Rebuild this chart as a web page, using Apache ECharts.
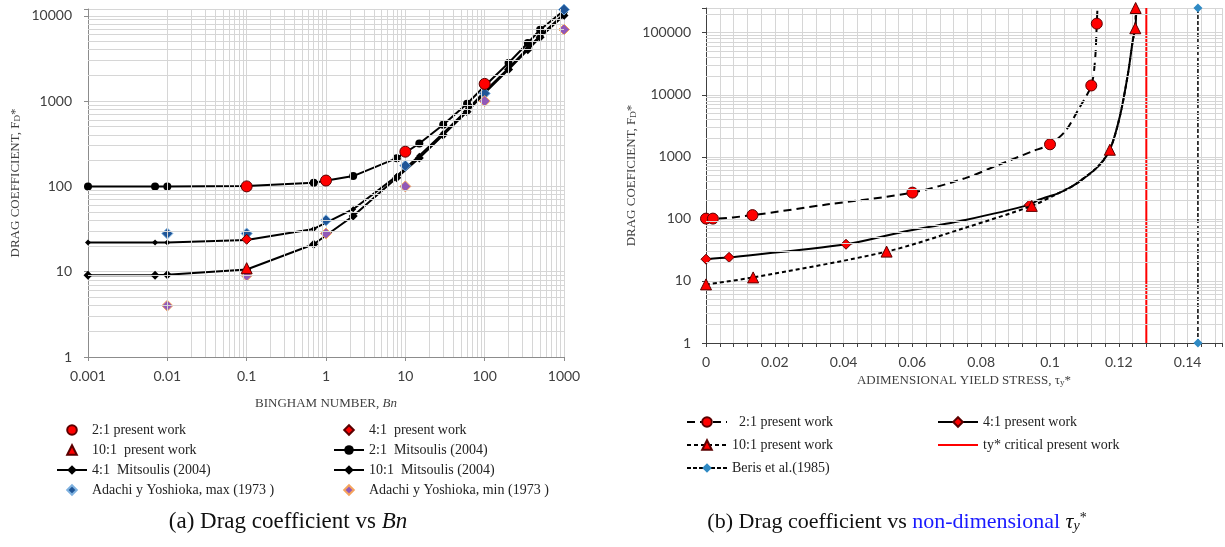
<!DOCTYPE html>
<html><head><meta charset="utf-8">
<script src="https://cdn.jsdelivr.net/npm/echarts@6/dist/echarts.min.js"></script>
<style>html,body{margin:0;padding:0;background:#fff}#c{width:1225px;height:547px}</style>
</head><body><div id="c"></div>
<script>
// ---------- Panel (a): drag coefficient vs Bingham number ----------
const bnMit    = [0.001, 0.007, 0.01, 0.1, 0.7, 2.2, 7.8, 15, 30, 60, 100, 200, 350, 500, 1000];
const fdMit21  = [100, 100, 100, 101, 110, 132, 214, 318, 527, 929, 1500, 2790, 4790, 6850, 11500];
const fdMit41  = [22, 22, 22, 23.5, 31.7, 54, 132, 228, 421, 789, 1300, 2435, 4170, 5820, 10500];
const fdMit101 = [9.1, 9.1, 9.2, 10.6, 21, 45, 126, 215, 400, 750, 1240, 2340, 4000, 5600, 10100];
const bnP21  = [0.1, 1, 10, 100];
const fdP21  = [100, 117, 255, 1590];
const bnP41  = [0.1];
const fdP41  = [24];
const bnP101 = [0.1];
const fdP101 = [11];
const bnAd     = [0.01, 0.1, 1, 10, 100, 1000];
const fdAdMax  = [28, 28, 40, 175, 1230, 11800];
const fdAdMin  = [4, 9, 28, 100, 1000, 6900];

// ---------- Panel (b): drag coefficient vs adimensional yield stress ----------
// points; mk = 1 where the curve carries a marker
const tau21  = [0, 0.002, 0.0135, 0.035, 0.06, 0.0754, 0.0851, 0.0947, 0.1, 0.1044, 0.1082, 0.112, 0.1131, 0.1136, 0.1138];
const fd21   = [101, 101, 115, 170, 265, 453, 745, 1217, 1590, 2570, 5730, 14100, 36600, 140000, 250000];
const mk21   = [1, 1, 1, 0, 1, 0, 0, 0, 1, 0, 0, 1, 0, 1, 0];
const tau41  = [0, 0.0067, 0.0407, 0.0562, 0.0754, 0.094, 0.0967, 0.1025, 0.1063, 0.1092, 0.114, 0.1174, 0.1203, 0.1227, 0.1241, 0.1248, 0.1251];
const fd41   = [22.4, 24, 39, 60, 96, 168, 203, 260, 332, 425, 700, 1300, 4460, 22400, 77000, 118000, 250000];
const mk41   = [1, 1, 1, 0, 0, 1, 0, 0, 0, 0, 0, 0, 0, 0, 0, 0, 0];
const tau101 = [0, 0.0137, 0.0525, 0.0754, 0.0947, 0.1025, 0.1063, 0.1092, 0.114, 0.1174, 0.1203, 0.1227, 0.1241, 0.1248, 0.1249];
const fd101  = [8.8, 11.4, 29.7, 72, 162, 260, 332, 425, 700, 1300, 4460, 22400, 77000, 118000, 250000];
const mk101  = [1, 1, 1, 0, 1, 0, 0, 0, 0, 1, 0, 0, 0, 1, 1];
const tauBeris = [0.143, 0.143];
const fdBeris  = [1, 250000];
const tauCrit  = [0.128, 0.128];
const fdCrit   = [1, 250000];

// ---------- helpers ----------
const pts = (xs, ys) => xs.map((x, i) => [x, ys[i]]);
const ptsM = (xs, ys, m) => xs.map((x, i) => m[i] ? [x, ys[i]] : {value: [x, ys[i]], symbol: 'none'});
function minorVals(lo, hi) { const o = []; for (let e = lo; e < hi; e++) for (let m = 2; m <= 9; m++) o.push(+(m * Math.pow(10, e)).toPrecision(6)); return o; }
const GRID = '#d6d6d6';
const isPow10 = v => Math.abs(Math.log10(v) - Math.round(Math.log10(v))) < 1e-6;
const serif = 'Liberation Serif';
const tickFont = {fontFamily: 'Lato', fontSize: 14, color: '#404040'};

function gridLines(xi, vals, dim) {
  return {type: 'line', xAxisIndex: xi, yAxisIndex: xi, data: [], z: 1, silent: true,
    markLine: {silent: true, symbol: ['none', 'none'], label: {show: false}, animation: false,
      lineStyle: {color: GRID, width: 1, type: 'solid'},
      data: vals.map(v => ({[dim]: v}))}};
}
// marker-only series (drawn as a line series with an invisible line)
function markers(name, xs, ys, symbol, size, itemStyle, z) {
  return {name, type: 'line', xAxisIndex: 0, yAxisIndex: 0, z: z || 5, data: pts(xs, ys),
    symbol, symbolSize: size, itemStyle, lineStyle: {width: 0, opacity: 0}};
}

const redStyle = {color: '#ff0000', borderColor: '#5a0000', borderWidth: 1};
const noLine = n => ({name: n, lineStyle: {opacity: 0, width: 0}});

const titleRich = {
  a: {fontFamily: serif, fontSize: 13, color: '#404040', verticalAlign: 'bottom'},
  i: {fontFamily: serif, fontSize: 13, color: '#404040', fontStyle: 'italic', verticalAlign: 'bottom'},
  s: {fontFamily: serif, fontSize: 9, color: '#404040', verticalAlign: 'bottom'}
};
const legText = {fontFamily: serif, fontSize: 14, color: '#222'};

const chart = echarts.init(document.getElementById('c'), null, {renderer: 'canvas'});
chart.setOption({
  animation: false,
  backgroundColor: '#fff',
  grid: [
    {left: 88, top: 9, width: 476, height: 348},
    {left: 706, top: 8, width: 516, height: 335}
  ],
  xAxis: [
    {type: 'log', gridIndex: 0, min: 0.001, max: 1000,
      axisLine: {show: true, onZero: false, lineStyle: {color: '#8c8c8c'}},
      axisTick: {show: true, length: 4, lineStyle: {color: '#8c8c8c'}},
      axisLabel: Object.assign({margin: 12, formatter: v => String(+v.toPrecision(6))}, tickFont),
      splitLine: {show: true, lineStyle: {color: GRID}},
      name: '{a|BINGHAM NUMBER, }{i|Bn}', nameLocation: 'middle', nameGap: 40,
      nameTextStyle: {rich: titleRich}},
    {type: 'value', gridIndex: 1, min: 0, max: 0.15, interval: 0.004,
      axisLine: {show: true, onZero: false, lineStyle: {color: '#404040'}},
      axisTick: {show: true, length: 4, lineStyle: {color: '#404040'}},
      axisLabel: Object.assign({margin: 12, interval: 0, hideOverlap: false, formatter: v => {
        const r = v / 0.02; return Math.abs(r - Math.round(r)) < 1e-6 ? (v === 0 ? '0' : String(+v.toFixed(2))) : '';
      }}, tickFont),
      splitLine: {show: true, lineStyle: {color: GRID}},
      name: '{a|ADIMENSIONAL YIELD STRESS, τ}{s|y}{a|*}', nameLocation: 'middle', nameGap: 30,
      nameTextStyle: {rich: titleRich}}
  ],
  yAxis: [
    {type: 'log', gridIndex: 0, min: 1, max: 12000,
      axisLine: {show: true, lineStyle: {color: '#8c8c8c'}},
      axisTick: {show: true, length: 4, lineStyle: {color: '#8c8c8c'}},
      axisLabel: Object.assign({margin: 16, formatter: v => isPow10(v) ? String(Math.round(v)) : ''}, tickFont),
      splitLine: {show: true, lineStyle: {color: GRID}},
      name: '{a|DRAG COEFFICIENT, F}{s|D}{a|*}', nameLocation: 'middle', nameRotate: 90, nameGap: 66,
      nameTextStyle: {rich: titleRich}},
    {type: 'log', gridIndex: 1, min: 1, max: 250000,
      axisLine: {show: true, lineStyle: {color: '#404040'}},
      axisTick: {show: true, length: 4, lineStyle: {color: '#404040'}},
      axisLabel: Object.assign({margin: 15, formatter: v => isPow10(v) ? String(Math.round(v)) : ''}, tickFont),
      splitLine: {show: true, lineStyle: {color: GRID}},
      name: '{a|DRAG COEFICIENT, F}{s|D}{a|*}', nameLocation: 'middle', nameRotate: 90, nameGap: 68,
      nameTextStyle: {rich: titleRich}}
  ],
  legend: [
    {left: 51, top: 418, orient: 'vertical', itemWidth: 30, itemHeight: 12, itemGap: 6, textStyle: legText,
      data: [noLine('2:1 present work'), noLine('10:1  present work'), '4:1  Mitsoulis (2004)', noLine('Adachi y Yoshioka, max (1973 )')]},
    {left: 328, top: 418, orient: 'vertical', itemWidth: 30, itemHeight: 12, itemGap: 6, textStyle: legText,
      data: [noLine('4:1  present work'), '2:1  Mitsoulis (2004)', '10:1  Mitsoulis (2004)', noLine('Adachi y Yoshioka, min (1973 )')]},
    {left: 681, top: 410, orient: 'vertical', itemWidth: 40, itemHeight: 12, itemGap: 9, textStyle: legText,
      data: ['  2:1 present work', '10:1 present work', 'Beris et al.(1985)']},
    {left: 932, top: 410, orient: 'vertical', itemWidth: 40, itemHeight: 12, itemGap: 9, textStyle: legText,
      data: ['4:1 present work', {name: 'ty* critical present work', itemStyle: {opacity: 0}}]}
  ],
  graphic: [
    {type: 'text', x: 288, y: 522, style: {
      text: '{n|(a) Drag coefficient vs }{i|Bn}', textAlign: 'center', textVerticalAlign: 'middle',
      rich: {n: {fontFamily: serif, fontSize: 23, fill: '#111'}, i: {fontFamily: serif, fontSize: 23, fontStyle: 'italic', fill: '#111'}}}},
    {type: 'text', x: 897, y: 522, style: {
      text: '{n|(b) Drag coefficient vs }{b|non-dimensional}{n| }{i|τ}{s|y}{p|*}', textAlign: 'center', textVerticalAlign: 'middle',
      rich: {n: {fontFamily: serif, fontSize: 22, fill: '#111'}, b: {fontFamily: serif, fontSize: 22, fill: '#1a1aff'},
        i: {fontFamily: serif, fontSize: 22, fontStyle: 'italic', fill: '#111'},
        s: {fontFamily: serif, fontSize: 14, fontStyle: 'italic', fill: '#111', verticalAlign: 'bottom'},
        p: {fontFamily: serif, fontSize: 14, fill: '#111', verticalAlign: 'top'}}}}
  ],
  series: [
    gridLines(0, minorVals(0, 4), 'yAxis'),
    gridLines(0, minorVals(-3, 3), 'xAxis'),
    gridLines(1, minorVals(0, 5).concat([200000]), 'yAxis'),
    // panel (a)
    {name: '2:1  Mitsoulis (2004)', type: 'line', xAxisIndex: 0, yAxisIndex: 0, z: 3,
      data: pts(bnMit, fdMit21), symbol: 'circle', symbolSize: 8,
      itemStyle: {color: '#000'}, lineStyle: {color: '#000', width: 2}},
    {name: '4:1  Mitsoulis (2004)', type: 'line', xAxisIndex: 0, yAxisIndex: 0, z: 3,
      data: pts(bnMit, fdMit41), symbol: 'diamond', symbolSize: 6,
      itemStyle: {color: '#000'}, lineStyle: {color: '#000', width: 2}},
    {name: '10:1  Mitsoulis (2004)', type: 'line', xAxisIndex: 0, yAxisIndex: 0, z: 3,
      data: pts(bnMit, fdMit101), symbol: 'diamond', symbolSize: 9,
      itemStyle: {color: '#000'}, lineStyle: {color: '#000', width: 2}},
    markers('Adachi y Yoshioka, max (1973 )', bnAd, fdAdMax, 'diamond', 11,
      {color: '#1f5597', borderColor: '#7fb2e0', borderWidth: 1}, 4),
    markers('Adachi y Yoshioka, min (1973 )', bnAd, fdAdMin, 'diamond', 11,
      {color: '#9158b8', borderColor: '#f5a35c', borderWidth: 1}, 4),
    markers('2:1 present work', bnP21, fdP21, 'circle', 11, redStyle),
    markers('4:1  present work', bnP41, fdP41, 'diamond', 10, redStyle),
    markers('10:1  present work', bnP101, fdP101, 'triangle', 11, redStyle),
    // panel (b)
    {name: 'ty* critical present work', type: 'line', xAxisIndex: 1, yAxisIndex: 1, z: 3,
      data: pts(tauCrit, fdCrit), symbol: 'none', lineStyle: {color: '#ff0000', width: 2}, itemStyle: {color: '#ff0000'}},
    {name: 'Beris et al.(1985)', type: 'line', xAxisIndex: 1, yAxisIndex: 1, z: 3,
      data: pts(tauBeris, fdBeris), symbol: 'diamond', symbolSize: 9,
      itemStyle: {color: '#2f8ac4'}, lineStyle: {color: '#000', width: 1.5, type: [4, 2]}},
    {name: '  2:1 present work', type: 'line', xAxisIndex: 1, yAxisIndex: 1, z: 4,
      data: ptsM(tau21, fd21, mk21), smooth: 0.3, symbol: 'circle', symbolSize: 11,
      itemStyle: redStyle, lineStyle: {color: '#000', width: 2, type: [8, 5]}},
    {name: '4:1 present work', type: 'line', xAxisIndex: 1, yAxisIndex: 1, z: 4,
      data: ptsM(tau41, fd41, mk41), smooth: 0.3, symbol: 'diamond', symbolSize: 10,
      itemStyle: redStyle, lineStyle: {color: '#000', width: 2}},
    {name: '10:1 present work', type: 'line', xAxisIndex: 1, yAxisIndex: 1, z: 5,
      data: ptsM(tau101, fd101, mk101), smooth: 0.3, symbol: 'triangle', symbolSize: 11,
      itemStyle: redStyle, lineStyle: {color: '#000', width: 2, type: [4, 3]}}
  ]
});
</script></body></html>
